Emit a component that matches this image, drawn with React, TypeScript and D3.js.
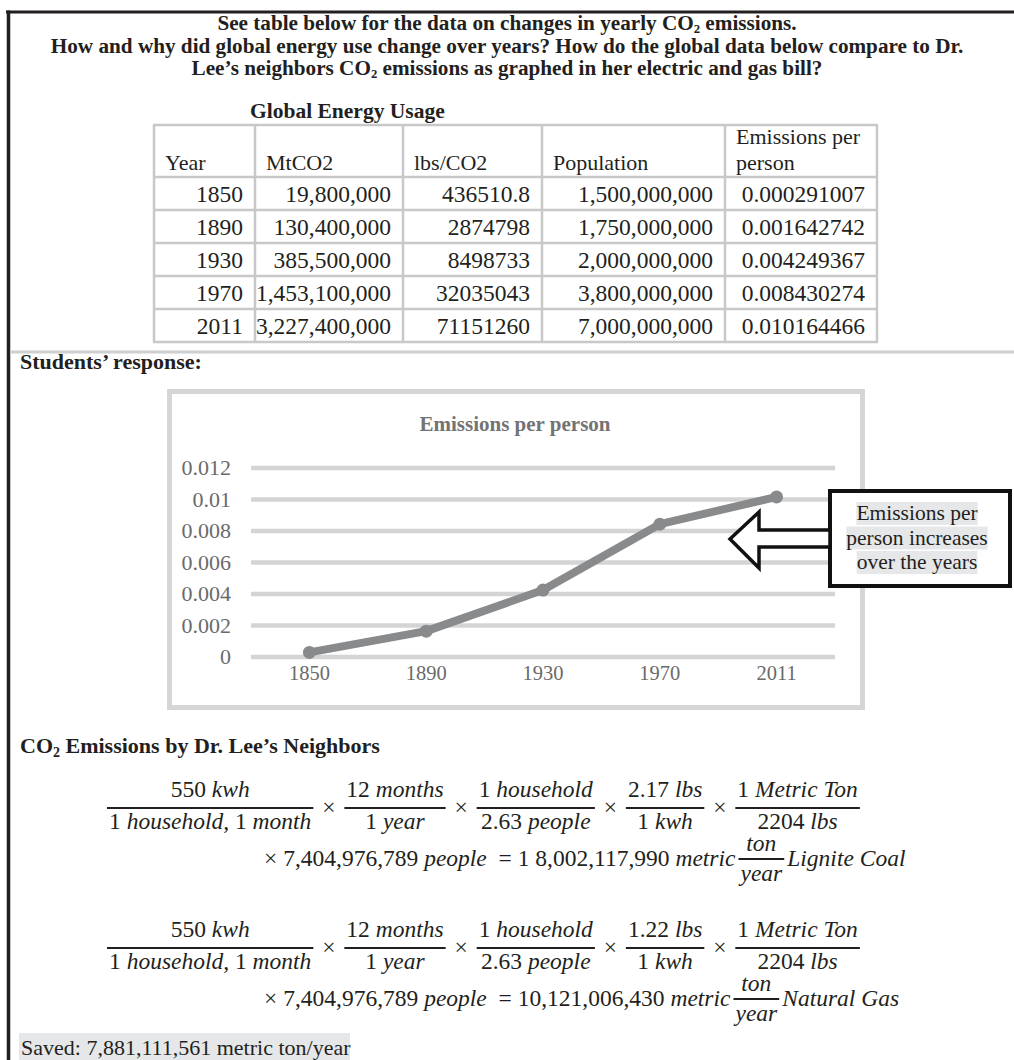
import { useEffect, useRef } from "react";
import * as d3 from "d3";

const years = ["1850", "1890", "1930", "1970", "2011"];
const mtCO2 = [19800000, 130400000, 385500000, 1453100000, 3227400000];
const lbsCO2 = ["436510.8", "2874798", "8498733", "32035043", "71151260"];
const population = [1500000000, 1750000000, 2000000000, 3800000000, 7000000000];
const perPerson = [0.000291007, 0.001642742, 0.004249367, 0.008430274, 0.010164466];
const tableHeaders = ["Year", "MtCO2", "lbs/CO2", "Population", "Emissions per|person"];
const yTicks = [0, 0.002, 0.004, 0.006, 0.008, 0.01, 0.012];

const coalFactors = [
    ["550 kwh", "1 household, 1 month"],
    ["12 months", "1 year"],
    ["1 household", "2.63 people"],
    ["2.17 lbs", "1 kwh"],
    ["1 Metric Ton", "2204 lbs"],
];
const gasFactors = [
    ["550 kwh", "1 household, 1 month"],
    ["12 months", "1 year"],
    ["1 household", "2.63 people"],
    ["1.22 lbs", "1 kwh"],
    ["1 Metric Ton", "2204 lbs"],
];
const coalResult = ["× 7,404,976,789 people  = 1 8,002,117,990 metric", "Lignite Coal"];
const gasResult = ["× 7,404,976,789 people  = 10,121,006,430 metric", "Natural Gas"];

const SERIF = "'Liberation Serif', 'Times New Roman', serif";
const INK = "#231f20";

const App = () => {
    const svgRef = useRef<SVGSVGElement | null>(null);

    useEffect(() => {
        const svg = d3.select(svgRef.current);
        svg.selectAll("*").remove();
        svg.attr("font-family", SERIF).attr("fill", INK);

        // frame of the worksheet
        svg.append("line").attr("x1", 6).attr("x2", 1014).attr("y1", 12).attr("y2", 12)
            .attr("stroke", INK).attr("stroke-width", 3);
        svg.append("line").attr("x1", 8.5).attr("x2", 8.5).attr("y1", 10.5).attr("y2", 1060)
            .attr("stroke", INK).attr("stroke-width", 3.5);
        svg.append("line").attr("x1", 10).attr("x2", 1014).attr("y1", 352).attr("y2", 352)
            .attr("stroke", "#cfcfcf").attr("stroke-width", 3);

        // question lines, with CO2 subscripts
        const question = [
            ["See table below for the data on changes in yearly CO", "2", " emissions."],
            ["How and why did global energy use change over years? How do the global data below compare to Dr."],
            ["Lee’s neighbors CO", "2", " emissions as graphed in her electric and gas bill?"],
        ];
        const co2Text = (x: number, y: number, parts: string[], size: number, anchor: string) => {
            const t = svg.append("text").attr("x", x).attr("y", y).attr("font-size", size)
                .attr("font-weight", "bold").attr("text-anchor", anchor);
            parts.forEach((p, i) => {
                const s = t.append("tspan").text(p);
                if (i % 2 === 1) s.attr("font-size", size * 0.6).attr("dy", 3);
                else if (i > 0) s.attr("dy", -3);
            });
            return t;
        };
        question.forEach((q, i) => co2Text(507, 30 + i * 22.5, q, 21.2, "middle"));

        // table
        svg.append("text").attr("x", 250).attr("y", 118).attr("font-size", 21.5)
            .attr("font-weight", "bold").text("Global Energy Usage");

        const colEdges = [154, 255, 403, 542, 725, 877];
        const rowEdges = [125, 177, 210, 243, 276, 309, 342];
        const grid = svg.append("g").attr("stroke", "#c8c8c8").attr("stroke-width", 2.5);
        rowEdges.forEach(r => grid.append("line").attr("x1", colEdges[0] - 1).attr("x2", colEdges[5] + 1)
            .attr("y1", r).attr("y2", r));
        colEdges.forEach(c => grid.append("line").attr("x1", c).attr("x2", c)
            .attr("y1", rowEdges[0]).attr("y2", rowEdges[6]));

        tableHeaders.forEach((h, i) => {
            const lines = h.split("|");
            lines.forEach((l, j) => {
                svg.append("text").attr("x", colEdges[i] + 11)
                    .attr("y", 170 - (lines.length - 1 - j) * 26)
                    .attr("font-size", 22).text(l);
            });
        });
        const comma = d3.format(",");
        const rows = years.map((yr, i) => [
            yr,
            comma(mtCO2[i]),
            lbsCO2[i],
            comma(population[i]),
            perPerson[i].toFixed(9),
        ]);
        rows.forEach((r, i) => {
            r.forEach((cell, j) => {
                svg.append("text").attr("x", colEdges[j + 1] - 12).attr("y", rowEdges[i + 1] + 25)
                    .attr("font-size", 23.5).attr("text-anchor", "end").text(cell);
            });
        });

        svg.append("text").attr("x", 20).attr("y", 369).attr("font-size", 22)
            .attr("font-weight", "bold").text("Students’ response:");

        // chart
        const chart = svg.append("g");
        chart.append("rect").attr("x", 169.5).attr("y", 391.5).attr("width", 693).attr("height", 316)
            .attr("fill", "#fff").attr("stroke", "#d6d6d6").attr("stroke-width", 5);
        chart.append("text").attr("x", 515).attr("y", 431).attr("text-anchor", "middle")
            .attr("font-size", 21).attr("font-weight", "bold").attr("fill", "#737373")
            .text("Emissions per person");

        const x = d3.scalePoint<string>().domain(years).range([251, 835]).padding(0.5);
        const y = d3.scaleLinear().domain([0, 0.012]).range([657, 468]);

        chart.selectAll(".grid").data(yTicks).enter().append("line").attr("class", "grid")
            .attr("x1", 251).attr("x2", 835).attr("y1", d => y(d)).attr("y2", d => y(d))
            .attr("stroke", "#d4d4d4").attr("stroke-width", 4.5);
        chart.selectAll(".ylab").data(yTicks).enter().append("text").attr("class", "ylab")
            .attr("x", 231).attr("y", d => y(d) + 7).attr("text-anchor", "end")
            .attr("font-size", 22).attr("fill", "#6a6a6a").text(d => String(+d.toFixed(3)));
        chart.selectAll(".xlab").data(years).enter().append("text").attr("class", "xlab")
            .attr("x", d => x(d)!).attr("y", 680).attr("text-anchor", "middle")
            .attr("font-size", 20.5).attr("fill", "#6a6a6a").text(d => d);

        const pts: [number, number][] = years.map((yr, i) => [x(yr)!, y(perPerson[i])]);
        chart.append("path").attr("d", d3.line()(pts)).attr("fill", "none")
            .attr("stroke", "#898a8c").attr("stroke-width", 8)
            .attr("stroke-linejoin", "round").attr("stroke-linecap", "round");
        chart.selectAll(".pt").data(pts).enter().append("circle").attr("class", "pt")
            .attr("cx", d => d[0]).attr("cy", d => d[1]).attr("r", 6.5).attr("fill", "#898a8c");

        // callout with block arrow
        const callout = svg.append("g");
        callout.append("rect").attr("x", 830).attr("y", 491).attr("width", 180).attr("height", 95)
            .attr("fill", "#fff").attr("stroke", "#111").attr("stroke-width", 4);
        callout.append("polygon")
            .attr("points", "730,539 759,512 759,530 830,530 830,547 759,547 759,568")
            .attr("fill", "#fff").attr("stroke", "#111").attr("stroke-width", 3.5)
            .attr("stroke-linejoin", "miter");
        ["Emissions per", "person increases", "over the years"].forEach((l, i) => {
            const t = callout.append("text").attr("x", 917).attr("y", 520 + i * 24.5)
                .attr("text-anchor", "middle").attr("font-size", 21.5).text(l);
            const b = (t.node() as SVGTextElement).getBBox();
            callout.insert("rect", "text").attr("x", b.x).attr("y", b.y + 1)
                .attr("width", b.width).attr("height", b.height - 1).attr("fill", "#e6e7e9");
        });

        svg.append("text").attr("x", 20).attr("y", 753).attr("font-size", 22).attr("font-weight", "bold")
            .call(t => {
                t.append("tspan").text("CO");
                t.append("tspan").text("2").attr("font-size", 14).attr("dy", 4);
                t.append("tspan").text(" Emissions by Dr. Lee’s Neighbors").attr("dy", -4);
            });

        // equations: numbers upright, words italic like the math font
        const EQ = 23.5;
        const rich = (x0: number, y0: number, str: string, anchor: string) => {
            const t = svg.append("text").attr("x", x0).attr("y", y0).attr("font-size", EQ)
                .attr("text-anchor", anchor).style("white-space", "pre");
            str.split(/(\d[\d.,]*|[×=])/).filter(s => s.length > 0).forEach(s => {
                t.append("tspan").attr("font-style", /^[\d×=]/.test(s) ? "normal" : "italic").text(s);
            });
            return t;
        };
        const width = (t: d3.Selection<SVGTextElement, unknown, null, undefined>) =>
            (t.node() as SVGTextElement).getComputedTextLength();
        const fraction = (x0: number, barY: number, num: string, den: string, gapUp: number, gapDown: number) => {
            const n = rich(0, barY - gapUp, num, "middle");
            const d = rich(0, barY + gapDown, den, "middle");
            const w = Math.max(width(n), width(d)) + 4;
            n.attr("x", x0 + w / 2);
            d.attr("x", x0 + w / 2);
            svg.append("line").attr("x1", x0).attr("x2", x0 + w).attr("y1", barY).attr("y2", barY)
                .attr("stroke", INK).attr("stroke-width", 2);
            return w;
        };
        const equation = (factors: string[][], result: string[], top: number) => {
            let cx = 107;
            const barY = top + 10;
            factors.forEach((f, i) => {
                if (i > 0) {
                    svg.append("text").attr("x", cx + 15.5).attr("y", barY + 7).attr("text-anchor", "middle")
                        .attr("font-size", EQ).text("×");
                    cx += 31;
                }
                cx += fraction(cx, barY, f[0], f[1], 11, 21);
            });
            const line2 = top + 68;
            const lead = rich(264, line2, result[0], "start");
            let lx = 264 + width(lead) + 3;
            lx += fraction(lx, line2 - 7, "ton", "year", 8, 22);
            rich(lx + 3, line2, result[1], "start");
        };
        equation(coalFactors, coalResult, 798);
        equation(gasFactors, gasResult, 938);

        svg.append("rect").attr("x", 19).attr("y", 1033).attr("width", 331).attr("height", 30)
            .attr("fill", "#e6e7e9");
        svg.append("text").attr("x", 21).attr("y", 1055).attr("font-size", 22)
            .text("Saved: 7,881,111,561 metric ton/year");
    }, []);

    return (
        <svg ref={svgRef} width={1014} height={1060}
             style={{ position: "absolute", left: 0, top: 0, background: "#fff" }} />
    );
};

export default App;
